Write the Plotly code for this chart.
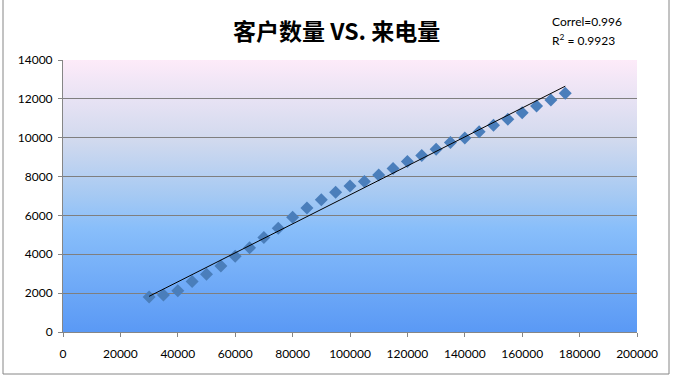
import base64
import numpy as np
import plotly.graph_objects as go

# Data
customers = [30000, 35000, 40000, 45000, 50000, 55000, 60000, 65000, 70000, 75000,
             80000, 85000, 90000, 95000, 100000, 105000, 110000, 115000, 120000, 125000,
             130000, 135000, 140000, 145000, 150000, 155000, 160000, 165000, 170000, 175000]
calls = [1800, 1900, 2120, 2600, 2970, 3400, 3900, 4330, 4870, 5340,
         5900, 6380, 6810, 7190, 7520, 7740, 8080, 8410, 8770, 9080,
         9410, 9750, 9990, 10310, 10640, 10950, 11290, 11630, 11940, 12290]
title_text = "客户数量 VS. 来电量"
stats_lines = ["Correl=0.996", "R<sup>2</sup> = 0.9923"]
x_ticks = [0, 20000, 40000, 60000, 80000, 100000, 120000, 140000, 160000, 180000, 200000]
y_ticks = [0, 2000, 4000, 6000, 8000, 10000, 12000, 14000]

# linear trendline from the data
slope, intercept = np.polyfit(customers, calls, 1)
tx = [min(customers), max(customers)]
ty = [slope * v + intercept for v in tx]

svg = """<svg xmlns='http://www.w3.org/2000/svg' width='100' height='100' preserveAspectRatio='none'>
<defs><linearGradient id='g' x1='0' y1='0' x2='0' y2='1'>
<stop offset='0' stop-color='#FDEBF9'/>
<stop offset='0.3' stop-color='#D0D9EE'/>
<stop offset='0.5' stop-color='#A5C9F3'/>
<stop offset='0.62' stop-color='#88BEFA'/>
<stop offset='1' stop-color='#5A99F5'/>
</linearGradient></defs>
<rect x='0' y='0' width='100' height='100' fill='url(#g)'/></svg>"""
uri = "data:image/svg+xml;base64," + base64.b64encode(svg.encode()).decode()

fig = go.Figure()
fig.add_trace(go.Scatter(x=customers, y=calls, mode="markers",
                         marker=dict(symbol="diamond", size=10, color="#4A7EBB",
                                     line=dict(width=0)),
                         showlegend=False, hoverinfo="skip"))
fig.add_trace(go.Scatter(x=tx, y=ty, mode="lines",
                         line=dict(color="black", width=1),
                         showlegend=False, hoverinfo="skip"))

W, H = 673, 378
L, R, T, B = 63, 36, 60, 46
pw, ph = W - L - R, H - T - B

def px(x):
    return (x - L) / pw

def py(y):
    return (H - B - y) / ph

fig.update_layout(
    width=W, height=H,
    margin=dict(l=L, r=R, t=T, b=B),
    paper_bgcolor="white",
    plot_bgcolor="rgba(0,0,0,0)",
    font=dict(family="Lato, Liberation Sans, sans-serif", size=12, color="black"),
    images=[dict(source=uri, xref="paper", yref="paper", x=0, y=1, sizex=1, sizey=1,
                 sizing="stretch", layer="below", xanchor="left", yanchor="top")],
    xaxis=dict(range=[0, 200000], tickvals=x_ticks, ticktext=[str(v) for v in x_ticks],
               showgrid=False, zeroline=False, showline=True, linecolor="#868686",
               linewidth=1, ticks="outside", ticklen=4, tickcolor="#868686",
               tickfont=dict(size=12), ticklabelstandoff=7, fixedrange=True),
    yaxis=dict(range=[0, 14000], tickvals=y_ticks, ticktext=[str(v) for v in y_ticks],
               showgrid=True, gridcolor="#7F7F7F", gridwidth=1, zeroline=False,
               showline=True, linecolor="#868686", linewidth=1, ticks="outside",
               ticklen=4, tickcolor="#868686", tickfont=dict(size=12),
               ticklabelstandoff=3, fixedrange=True),
    shapes=[dict(type="rect", xref="paper", yref="paper",
                 x0=px(3), x1=px(669), y0=py(374), y1=py(-5),
                 line=dict(color="#868686", width=1), fillcolor="rgba(0,0,0,0)",
                 layer="below")],
    annotations=[
        dict(text="<b>" + title_text + "</b>", xref="paper", yref="paper",
             x=px(336), y=py(30), xanchor="center", yanchor="middle", showarrow=False,
             font=dict(family="Noto Sans CJK SC", size=23, color="black")),
        dict(text=stats_lines[0], xref="paper", yref="paper", x=px(550), y=py(21),
             xanchor="left", yanchor="middle", showarrow=False, font=dict(size=12)),
        dict(text=stats_lines[1], xref="paper", yref="paper", x=px(550), y=py(40),
             xanchor="left", yanchor="middle", showarrow=False, font=dict(size=12)),
    ],
)

fig.write_html("out.html", config={"displayModeBar": False},
               post_script="document.body.style.margin='0';document.body.style.overflow='hidden';")
